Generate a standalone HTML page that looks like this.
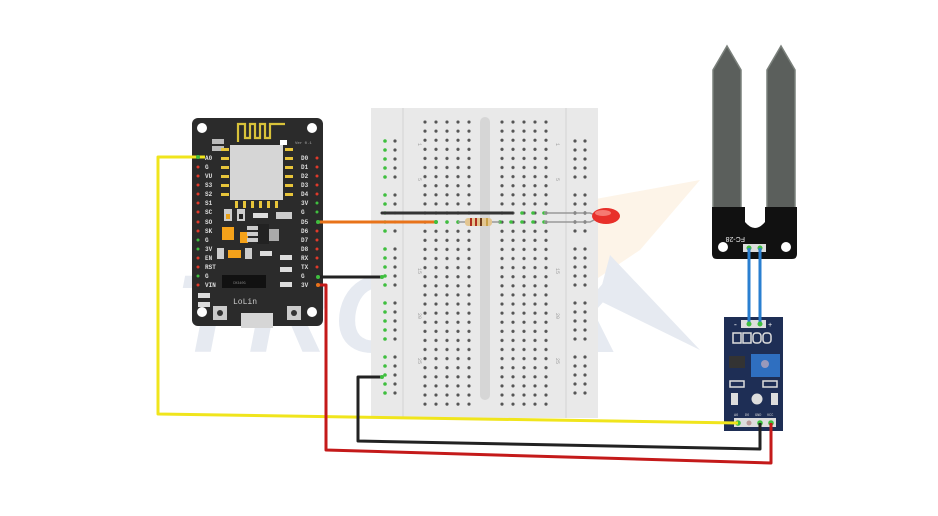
<!DOCTYPE html>
<html><head><meta charset="utf-8"><style>
html,body{margin:0;padding:0;background:#fff;}
svg{display:block;font-family:"Liberation Mono",monospace;}
</style></head><body>
<svg width="938" height="516" viewBox="0 0 938 516" xmlns="http://www.w3.org/2000/svg">
<defs>
<pattern id="pm" patternUnits="userSpaceOnUse" x="419.5" y="117.45" width="11" height="9.1">
<circle cx="5.5" cy="4.55" r="1.6" fill="#555"/>
</pattern>
<pattern id="pr" patternUnits="userSpaceOnUse" x="0" y="136.5" width="10" height="54">
<circle cx="5" cy="4.5" r="1.6" fill="#555"/><circle cx="5" cy="13.5" r="1.6" fill="#555"/><circle cx="5" cy="22.5" r="1.6" fill="#555"/><circle cx="5" cy="31.5" r="1.6" fill="#555"/><circle cx="5" cy="40.5" r="1.6" fill="#555"/>
</pattern>
<pattern id="pg" patternUnits="userSpaceOnUse" x="0" y="136.5" width="10" height="54">
<circle cx="5" cy="4.5" r="1.8" fill="#3fbf3f"/><circle cx="5" cy="13.5" r="1.8" fill="#3fbf3f"/><circle cx="5" cy="22.5" r="1.8" fill="#3fbf3f"/><circle cx="5" cy="31.5" r="1.8" fill="#3fbf3f"/><circle cx="5" cy="40.5" r="1.8" fill="#3fbf3f"/>
</pattern>
</defs>
<!-- watermark -->
<g>
<polygon points="590,200 700,180 640,250 595,280" fill="#fdf4e8"/>
<polygon points="598,300 610,255 700,350" fill="#e6eaf1"/>
<text x="175" y="352" font-family="Liberation Sans,sans-serif" font-weight="bold" font-style="italic" font-size="110" fill="#e6eaf1" letter-spacing="6">TRONIX</text>
</g>
<!-- breadboard -->
<rect x="371" y="108" width="227" height="310" fill="#e9e9e9"/>
<line x1="403" y1="108" x2="403" y2="418" stroke="#d2d2d2"/>
<line x1="566" y1="108" x2="566" y2="418" stroke="#d2d2d2"/>
<rect x="480" y="117" width="10" height="283" rx="5" fill="#d6d6d6"/>
<rect x="419.5" y="117.45" width="55" height="291.2" fill="url(#pm)"/>
<rect x="494.5" y="117.45" width="55" height="291.2" fill="url(#pm)"/>
<rect x="377" y="136.5" width="10" height="270" fill="url(#pg)"/>
<rect x="387" y="136.5" width="10" height="270" fill="url(#pr)"/>
<rect x="571" y="136.5" width="10" height="270" fill="url(#pr)"/>
<rect x="582" y="136.5" width="10" height="270" fill="url(#pr)"/>
<g font-size="5" fill="#999">
<text x="418" y="143" transform="rotate(90 418 143)">1</text>
<text x="556" y="143" transform="rotate(90 556 143)">1</text>
<text x="418" y="178" transform="rotate(90 418 178)">5</text>
<text x="556" y="178" transform="rotate(90 556 178)">5</text>
<text x="418" y="268" transform="rotate(90 418 268)">15</text>
<text x="556" y="268" transform="rotate(90 556 268)">15</text>
<text x="418" y="313" transform="rotate(90 418 313)">20</text>
<text x="556" y="313" transform="rotate(90 556 313)">20</text>
<text x="418" y="358" transform="rotate(90 418 358)">25</text>
<text x="556" y="358" transform="rotate(90 556 358)">25</text>
</g>
<!-- green highlights on bb -->
<g fill="#3fbf3f">
<circle cx="436" cy="222" r="1.8"/><circle cx="447" cy="222" r="1.8"/><circle cx="458" cy="222" r="1.8"/>
<circle cx="500" cy="222" r="1.8"/><circle cx="511" cy="222" r="1.8"/><circle cx="522" cy="222" r="1.8"/><circle cx="533" cy="222" r="1.8"/><circle cx="544" cy="222" r="1.8"/>
<circle cx="522" cy="213" r="1.8"/><circle cx="533" cy="213" r="1.8"/><circle cx="544" cy="213" r="1.8"/>
</g>
<line x1="382" y1="213" x2="512" y2="213" stroke="#333" stroke-width="3" stroke-linecap="round"/>
<polyline points="544,213 590,213 598,216" fill="none" stroke="#999" stroke-width="1.5"/>
<polyline points="544,222 590,222 598,218" fill="none" stroke="#999" stroke-width="1.5"/>
<ellipse cx="606" cy="216" rx="14" ry="8" fill="#e8302a"/>
<ellipse cx="603" cy="213" rx="8" ry="3" fill="#f57a72"/>
<line x1="458" y1="222" x2="500" y2="222" stroke="#999" stroke-width="1.5"/>
<rect x="465" y="218" width="27" height="8" rx="3" fill="#e3c691"/>
<rect x="470" y="218" width="2" height="8" fill="#b03020"/>
<rect x="475" y="218" width="2" height="8" fill="#b03020"/>
<rect x="480" y="218" width="2" height="8" fill="#6a3a1a"/>
<rect x="486" y="218" width="2" height="8" fill="#c9a24a"/>

<!-- NodeMCU -->
<rect x="192" y="118" width="131" height="208" rx="6" fill="#2b2b2b"/>
<circle cx="202" cy="128" r="5" fill="#fff"/><circle cx="312" cy="128" r="5" fill="#fff"/>
<circle cx="202" cy="312" r="5" fill="#fff"/><circle cx="312" cy="312" r="5" fill="#fff"/>
<path d="M238 142 V124 H245 V138 H250 V124 H255 V138 H260 V124 H265 V138 H270 V124 H285" fill="none" stroke="#d8c23a" stroke-width="2.2"/>
<rect x="280" y="140" width="7" height="5" fill="#fff"/>
<text x="295" y="144" font-size="4" fill="#aaa">Ver 0.1</text>
<rect x="212" y="139" width="12" height="5" fill="#bbb"/><rect x="212" y="146" width="12" height="5" fill="#bbb"/>
<g fill="#e8c53a">
<rect x="221" y="148" width="8" height="3"/><rect x="221" y="157" width="8" height="3"/><rect x="221" y="166" width="8" height="3"/><rect x="221" y="175" width="8" height="3"/><rect x="221" y="184" width="8" height="3"/><rect x="221" y="193" width="8" height="3"/>
<rect x="285" y="148" width="8" height="3"/><rect x="285" y="157" width="8" height="3"/><rect x="285" y="166" width="8" height="3"/><rect x="285" y="175" width="8" height="3"/><rect x="285" y="184" width="8" height="3"/><rect x="285" y="193" width="8" height="3"/>
<rect x="235" y="201" width="3" height="7"/><rect x="243" y="201" width="3" height="7"/><rect x="251" y="201" width="3" height="7"/><rect x="259" y="201" width="3" height="7"/><rect x="267" y="201" width="3" height="7"/><rect x="275" y="201" width="3" height="7"/>
</g>
<rect x="230" y="145" width="53" height="55" fill="#d6d6d6"/>
<rect x="224" y="209" width="8" height="12" fill="#ccc"/><rect x="237" y="209" width="8" height="12" fill="#ccc"/>
<rect x="226" y="214" width="4" height="5" fill="#e8a21a"/><rect x="239" y="214" width="4" height="5" fill="#222"/>
<rect x="253" y="213" width="15" height="5" fill="#ddd"/>
<rect x="276" y="212" width="16" height="7" fill="#ccc"/>
<rect x="222" y="227" width="12" height="13" fill="#f5a21a"/>
<rect x="240" y="232" width="8" height="11" fill="#f5a21a"/>
<rect x="257" y="224" width="12" height="20" fill="#222"/><rect x="269" y="229" width="10" height="12" fill="#aaa"/>
<rect x="247" y="226" width="11" height="4" fill="#ccc"/><rect x="247" y="232" width="11" height="4" fill="#ccc"/><rect x="247" y="238" width="11" height="4" fill="#ccc"/>
<rect x="217" y="248" width="7" height="11" fill="#ccc"/><rect x="245" y="248" width="7" height="11" fill="#ccc"/><rect x="228" y="250" width="13" height="8" fill="#f5a21a"/>
<rect x="260" y="251" width="12" height="5" fill="#ddd"/>
<rect x="280" y="255" width="12" height="5" fill="#ddd"/><rect x="280" y="267" width="12" height="5" fill="#ddd"/><rect x="280" y="282" width="12" height="5" fill="#ddd"/>
<rect x="222" y="275" width="44" height="13" fill="#111"/>
<text x="233" y="284" font-size="3.5" fill="#888">CH340G</text>
<text x="233" y="304" font-size="8" fill="#ccc">LoLin</text>
<rect x="213" y="306" width="14" height="14" fill="#ccc"/><circle cx="220" cy="313" r="3" fill="#333"/>
<rect x="287" y="306" width="14" height="14" fill="#ccc"/><circle cx="294" cy="313" r="3" fill="#333"/>
<rect x="241" y="313" width="32" height="15" fill="#d6d6d6"/>
<rect x="198" y="293" width="12" height="5" fill="#ddd"/><rect x="198" y="302" width="12" height="5" fill="#ddd"/>
<g font-size="6" fill="#ddd" font-weight="bold">
<text x="205" y="160">A0</text><text x="205" y="169">G</text><text x="205" y="178">VU</text><text x="205" y="187">S3</text><text x="205" y="196">S2</text><text x="205" y="205">S1</text><text x="205" y="214">SC</text><text x="205" y="224">SO</text><text x="205" y="233">SK</text><text x="205" y="242">G</text><text x="205" y="251">3V</text><text x="205" y="260">EN</text><text x="205" y="269">RST</text><text x="205" y="278">G</text><text x="205" y="287">VIN</text>
<text x="301" y="160">D0</text><text x="301" y="169">D1</text><text x="301" y="178">D2</text><text x="301" y="187">D3</text><text x="301" y="196">D4</text><text x="301" y="205">3V</text><text x="301" y="214">G</text><text x="301" y="224">D5</text><text x="301" y="233">D6</text><text x="301" y="242">D7</text><text x="301" y="251">D8</text><text x="301" y="260">RX</text><text x="301" y="269">TX</text><text x="301" y="278">G</text><text x="301" y="287">3V</text>
</g>
<g fill="#e03a2a">
<circle cx="198" cy="167" r="1.5"/><circle cx="198" cy="176" r="1.5"/><circle cx="198" cy="185" r="1.5"/><circle cx="198" cy="194" r="1.5"/><circle cx="198" cy="203" r="1.5"/><circle cx="198" cy="212" r="1.5"/><circle cx="198" cy="222" r="1.5"/><circle cx="198" cy="231" r="1.5"/><circle cx="198" cy="258" r="1.5"/><circle cx="198" cy="267" r="1.5"/><circle cx="198" cy="285" r="1.5"/>
<circle cx="317" cy="158" r="1.5"/><circle cx="317" cy="167" r="1.5"/><circle cx="317" cy="176" r="1.5"/><circle cx="317" cy="185" r="1.5"/><circle cx="317" cy="194" r="1.5"/><circle cx="317" cy="231" r="1.5"/><circle cx="317" cy="240" r="1.5"/><circle cx="317" cy="249" r="1.5"/><circle cx="317" cy="258" r="1.5"/><circle cx="317" cy="267" r="1.5"/>
</g>
<g fill="#3fbf3f">
<circle cx="198" cy="240" r="1.5"/><circle cx="198" cy="249" r="1.5"/><circle cx="198" cy="276" r="1.5"/><circle cx="317" cy="203" r="1.5"/><circle cx="317" cy="212" r="1.5"/>
</g>

<!-- soil probe -->
<path d="M713 210 V70 L727 46 L741 70 V210 Z" fill="#5b5f5c" stroke="#7a807b" stroke-width="1.5"/>
<path d="M767 210 V70 L781 46 L795 70 V210 Z" fill="#5b5f5c" stroke="#7a807b" stroke-width="1.5"/>
<path d="M712 207 H797 V254 Q797 259 792 259 H717 Q712 259 712 254 Z M745 207 V222 Q755 234 765 222 V207 Z" fill="#111" fill-rule="evenodd"/>
<circle cx="723" cy="247" r="5" fill="#fff"/><circle cx="786" cy="247" r="5" fill="#fff"/>
<text x="765" y="233" font-size="7" fill="#eee" transform="rotate(180 755 235)" font-family="Liberation Sans,sans-serif">FC-28</text>
<rect x="743" y="244" width="23" height="8" fill="#ddd"/>
<circle cx="749" cy="248" r="2.5" fill="#3fbf3f"/><circle cx="760" cy="248" r="2.5" fill="#3fbf3f"/>

<!-- module -->
<rect x="724" y="317" width="59" height="114" fill="#1e2e55"/>
<rect x="741" y="320" width="25" height="8" fill="#ddd"/>
<text x="733" y="327" font-size="8" fill="#fff">-</text><text x="768" y="327" font-size="7" fill="#fff">+</text>
<g fill="none" stroke="#ddd" stroke-width="1.5">
<rect x="733" y="333" width="8" height="10"/><rect x="743" y="333" width="8" height="10"/><rect x="753" y="333" width="8" height="10" rx="3"/><rect x="763" y="333" width="8" height="10" rx="3"/>
<rect x="730" y="381" width="14" height="6"/><rect x="763" y="381" width="14" height="6"/>
</g>
<rect x="729" y="356" width="16" height="12" fill="#333"/>
<rect x="751" y="354" width="29" height="23" fill="#2f6fc0"/><circle cx="765" cy="364" r="4" fill="#99b"/>
<circle cx="757" cy="399" r="5.5" fill="#ddd"/>
<rect x="731" y="393" width="7" height="12" fill="#ddd"/><rect x="771" y="393" width="7" height="12" fill="#ddd"/>
<g font-size="3.5" fill="#ddd"><text x="734" y="416">AO</text><text x="745" y="416">DO</text><text x="755" y="416">GND</text><text x="767" y="416">VCC</text></g>
<rect x="734" y="418" width="42" height="9" fill="#ddd"/>
<circle cx="738" cy="423" r="2.8" fill="#3fbf3f"/><circle cx="749" cy="423" r="2.5" fill="#b99"/><circle cx="760" cy="423" r="2.8" fill="#3fbf3f"/><circle cx="771" cy="423" r="2.8" fill="#3fbf3f"/>

<!-- wires -->
<g fill="none" stroke-linejoin="round">
<polyline points="205,157 158,157 158,414 738,423" stroke="#f0e51c" stroke-width="3"/>
<line x1="318" y1="222" x2="436" y2="222" stroke="#e8731a" stroke-width="3"/>
<line x1="318" y1="277" x2="382" y2="277" stroke="#222" stroke-width="3"/>
<polyline points="382,377 358,377 358,441 760,449 760,423" stroke="#222" stroke-width="3"/>
<polyline points="318,285 326,285 326,450 771,463 771,423" stroke="#c41a1a" stroke-width="3"/>
<line x1="749" y1="248" x2="749" y2="324" stroke="#2a7fd0" stroke-width="3"/>
<line x1="760" y1="248" x2="760" y2="324" stroke="#2a7fd0" stroke-width="3"/>
</g>
<circle cx="749" cy="324" r="2.5" fill="#3fbf3f"/><circle cx="760" cy="324" r="2.5" fill="#3fbf3f"/>
<circle cx="382" cy="277" r="2" fill="#3fbf3f"/><circle cx="382" cy="377" r="2" fill="#3fbf3f"/>
<circle cx="436" cy="222" r="2" fill="#3fbf3f"/>
<circle cx="318" cy="222" r="2" fill="#3fbf3f"/><circle cx="318" cy="277" r="2" fill="#3fbf3f"/><circle cx="318" cy="285" r="2" fill="#e8731a"/>
<circle cx="198" cy="157" r="2" fill="#3fbf3f"/>
</svg>
</body></html>
